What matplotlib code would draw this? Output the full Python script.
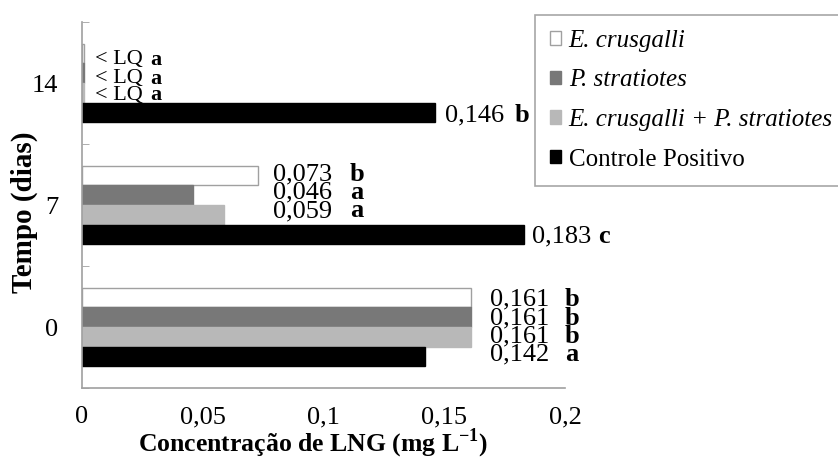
import matplotlib
matplotlib.use("Agg")
import matplotlib.pyplot as plt
from matplotlib.patches import Patch
import numpy as np

plt.rcParams['font.family'] = ['Liberation Serif', 'DejaVu Serif']

categories = ["0", "7", "14"]
series_names = ["E. crusgalli", "P. stratiotes", "E. crusgalli + P. stratiotes", "Controle Positivo"]
# values per series for days 0, 7, 14 (14: < LQ drawn as a sliver)
e_crus = [0.161, 0.073, 0.001]
p_strat = [0.161, 0.046, 0.001]
mix = [0.161, 0.059, 0.001]
controle = [0.142, 0.183, 0.146]
values = [e_crus, p_strat, mix, controle]

num_labels = [
    ["0,161", "0,073", "< LQ"],
    ["0,161", "0,046", "< LQ"],
    ["0,161", "0,059", "< LQ"],
    ["0,142", "0,183", "0,146"],
]
letters = [
    ["b", "b", "a"],
    ["b", "a", "a"],
    ["b", "a", "a"],
    ["a", "c", "b"],
]
xticks = [0, 0.05, 0.1, 0.15, 0.2]
xticklabels = ["0", "0,05", "0,1", "0,15", "0,2"]

colors = ["white", "#787878", "#b8b8b8", "black"]
edges = ["#a0a0a0", "#787878", "#b8b8b8", "black"]
offsets = [0.24, 0.08, -0.08, -0.24]
h = 0.16

fig = plt.figure(figsize=(8.38, 4.59), dpi=100)
ax = fig.add_axes([82/838, 1-388/459, (565-82)/838, (388-22)/459])

y = np.arange(len(categories))
for i in range(4):
    ax.barh(y + offsets[i], values[i], height=h, color=colors[i],
            edgecolor=edges[i], linewidth=1.0)


def px2x(px):
    return (px - 82) / 2415.0


def py2y(py):
    return (328 - py) / 122.5


label_pos = {
    # (series, cat): (x_num_px, x_letter_px, y_center_px, fontsize)
    (0, 0): (490, 565, 298, 19), (1, 0): (490, 565, 317, 19),
    (2, 0): (490, 565, 335, 19), (3, 0): (490, 565, 353, 19),
    (0, 1): (273, 350, 172, 19), (1, 1): (273, 350, 190, 19),
    (2, 1): (273, 350, 209, 19), (3, 1): (532, 598, 235, 19),
    (0, 2): (95, 150, 57, 16), (1, 2): (95, 150, 76, 16),
    (2, 2): (95, 150, 93, 16), (3, 2): (445, 515, 113, 19),
}

for (s, c), (xn, xl, yc, fs) in label_pos.items():
    ax.text(px2x(xn), py2y(yc), num_labels[s][c], fontsize=fs, ha='left',
            va='center_baseline', clip_on=False)
    ax.text(px2x(xl), py2y(yc), letters[s][c], fontsize=fs, ha='left',
            va='center_baseline', fontweight='bold', clip_on=False)

ax.set_xlim(0, 0.2)
ax.set_ylim(-0.5, 2.5)
ax.set_yticks(y)
ax.set_yticklabels(categories, fontsize=19)
ax.set_xticks(xticks)
ax.set_xticklabels(xticklabels, fontsize=19)
ax.tick_params(axis='x', length=0, pad=13)
ax.tick_params(axis='y', length=0, pad=17)
ax.set_yticks([-0.5, 0.5, 1.5, 2.5], minor=True)
ax.tick_params(axis='y', which='minor', direction='in', length=5, color='#a0a0a0')

for side in ['top', 'right']:
    ax.spines[side].set_visible(False)
for side in ['left', 'bottom']:
    ax.spines[side].set_color('#a0a0a0')
    ax.spines[side].set_linewidth(1.2)

ax.set_xlabel("Concentração de LNG (mg L$^{\\mathregular{-1}}$)", fontsize=18.5,
              fontweight='bold')
ax.xaxis.set_label_coords(0.478, -0.106)
ax.set_ylabel("Tempo (dias)", fontsize=21, fontweight='bold')
ax.yaxis.set_label_coords(-0.092, 0.48)

handles = [Patch(facecolor=colors[i], edgecolor=edges[i]) for i in range(4)]
leg = fig.legend(handles, series_names, loc='upper left',
                 bbox_to_anchor=(535/838, 1-15/459), fontsize=18,
                 frameon=True, fancybox=False, edgecolor='#909090',
                 handlelength=0.45, handleheight=0.45, handletextpad=0.3,
                 labelspacing=0.7, borderpad=0.6, borderaxespad=0)
leg.get_frame().set_linewidth(1.2)
for i, t in enumerate(leg.get_texts()):
    if i < 3:
        t.set_fontstyle('italic')

fig.savefig("out.png", dpi=100)
